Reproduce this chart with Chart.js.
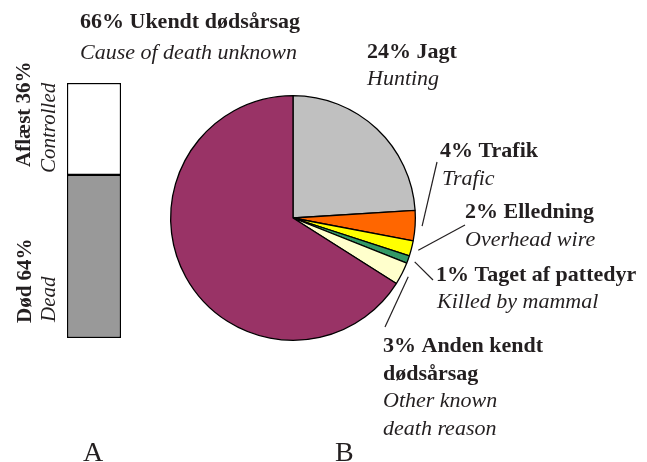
<!DOCTYPE html>
<html><head><meta charset="utf-8">
<script src="https://cdn.jsdelivr.net/npm/chart.js@4.4.1/dist/chart.umd.min.js"></script>
<style>
html,body{margin:0;padding:0;background:#fff;}
#wrap{position:relative;width:647px;height:462px;overflow:hidden;}
canvas{position:absolute;left:0;top:0;}
</style></head><body>
<div id="wrap">
<canvas id="bar" width="160" height="462"></canvas>
<canvas id="pie" width="647" height="462"></canvas>
</div>
<script>
// ---- Data ----
const causeLabelsDa = ['Jagt', 'Trafik', 'Elledning', 'Taget af pattedyr', 'Anden kendt dødsårsag', 'Ukendt dødsårsag'];
const causeLabelsEn = ['Hunting', 'Trafic', 'Overhead wire', 'Killed by mammal', 'Other known death reason', 'Cause of death unknown'];
const causeValues = [24, 4, 2, 1, 3, 66];
const statusLabelsDa = ['Død', 'Aflæst'];
const statusLabelsEn = ['Dead', 'Controlled'];
const statusValues = [64, 36];
const panelLetters = ['A', 'B'];

// ---- Styles ----
const causeColors = ['#c0c0c0', '#ff6600', '#ffff00', '#339966', '#ffffcc', '#993366'];
const statusColors = ['#999999', '#ffffff'];
const TXT = '#231f20';
const SERIF = '"Liberation Serif", "Times New Roman", serif';

Chart.defaults.animation = false;

function drawText(ctx, s, x, y, style, size) {
  ctx.font = style + ' ' + size + 'px ' + SERIF;
  ctx.fillText(s, x, y);
}

// ---- Bar chart (A) ----
const barLabelPlugin = {
  id: 'barLabels',
  afterDraw(chart) {
    const ctx = chart.ctx;
    ctx.save();
    ctx.fillStyle = TXT;
    ctx.textBaseline = 'alphabetic';
    ctx.textAlign = 'left';
    const items = [
      [statusLabelsDa[1] + ' ' + statusValues[1] + '%', 'bold', 30, 167],
      [statusLabelsEn[1], 'italic', 55, 173],
      [statusLabelsDa[0] + ' ' + statusValues[0] + '%', 'bold', 31, 323],
      [statusLabelsEn[0], 'italic', 55, 322]
    ];
    items.forEach(([s, st, x, y]) => {
      ctx.save();
      ctx.translate(x, y);
      ctx.rotate(-Math.PI / 2);
      drawText(ctx, s, 0, 0, st, 21);
      ctx.restore();
    });
    ctx.restore();
  }
};

new Chart(document.getElementById('bar'), {
  type: 'bar',
  data: {
    labels: [panelLetters[0]],
    datasets: statusValues.map((v, i) => ({
      label: statusLabelsDa[i],
      data: [v],
      backgroundColor: statusColors[i],
      borderColor: '#000',
      borderWidth: 1.5,
      borderSkipped: false,
      barPercentage: 1,
      categoryPercentage: 1
    }))
  },
  options: {
    responsive: false,
    devicePixelRatio: 1,
    layout: { padding: { left: 67, right: 39, top: 83, bottom: 124 } },
    scales: {
      x: { stacked: true, display: false },
      y: { stacked: true, display: false, min: 0, max: 100 }
    },
    plugins: { legend: { display: false }, tooltip: { enabled: false } }
  },
  plugins: [barLabelPlugin]
});

// ---- Pie chart (B) ----
const pieLabelPlugin = {
  id: 'pieLabels',
  afterDraw(chart) {
    const ctx = chart.ctx;
    const arcs = chart.getDatasetMeta(0).data;
    ctx.save();
    ctx.fillStyle = TXT;
    ctx.strokeStyle = '#231f20';
    ctx.lineWidth = 1.2;
    ctx.textBaseline = 'alphabetic';
    ctx.textAlign = 'left';

    // leader lines for small slices: [index, end x, end y]
    const leaders = [[1, 437, 162], [2, 465, 225], [3, 433, 280], [4, 385, 327]];
    leaders.forEach(([i, ex, ey]) => {
      const a = arcs[i];
      const mid = (a.startAngle + a.endAngle) / 2;
      const r = a.outerRadius + 7;
      ctx.beginPath();
      ctx.moveTo(a.x + r * Math.cos(mid), a.y + r * Math.sin(mid));
      ctx.lineTo(ex, ey);
      ctx.stroke();
    });

    const pct = i => causeValues[i] + '% ';
    const texts = [
      [pct(5) + causeLabelsDa[5], 'bold', 80, 28],
      [causeLabelsEn[5], 'italic', 80, 59],
      [pct(0) + causeLabelsDa[0], 'bold', 367, 58],
      [causeLabelsEn[0], 'italic', 367, 85],
      [pct(1) + causeLabelsDa[1], 'bold', 440, 157],
      [causeLabelsEn[1], 'italic', 442, 185],
      [pct(2) + causeLabelsDa[2], 'bold', 465, 218],
      [causeLabelsEn[2], 'italic', 465, 246],
      [pct(3) + causeLabelsDa[3], 'bold', 436, 281],
      [causeLabelsEn[3], 'italic', 437, 308],
      [pct(4) + 'Anden kendt', 'bold', 383, 352],
      ['dødsårsag', 'bold', 383, 380],
      ['Other known', 'italic', 383, 407],
      ['death reason', 'italic', 383, 435]
    ];
    texts.forEach(([s, st, x, y]) => drawText(ctx, s, x, y, st, 22));

    ctx.font = '28px ' + SERIF;
    ctx.fillText(panelLetters[0], 83, 461);
    ctx.fillText(panelLetters[1], 335, 461);
    ctx.restore();
  }
};

new Chart(document.getElementById('pie'), {
  type: 'pie',
  data: {
    labels: causeLabelsDa,
    datasets: [{
      data: causeValues,
      backgroundColor: causeColors,
      borderColor: '#000',
      borderWidth: 1.3
    }]
  },
  options: {
    responsive: false,
    devicePixelRatio: 1,
    layout: { padding: { left: 170, right: 231, top: 95, bottom: 121 } },
    plugins: { legend: { display: false }, tooltip: { enabled: false } }
  },
  plugins: [pieLabelPlugin]
});
</script>
</body></html>
